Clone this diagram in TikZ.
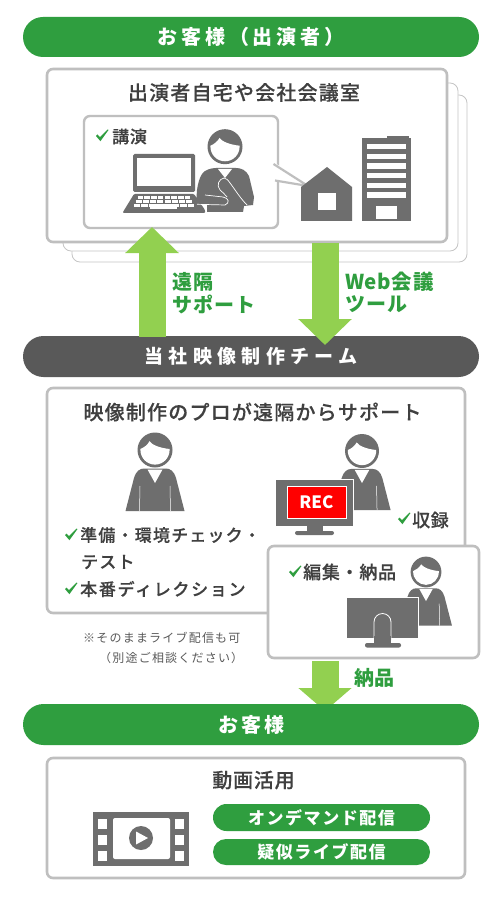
\documentclass[tikz,border=0pt]{standalone}
\usepackage{fontspec}
\usetikzlibrary{arrows.meta,shapes.misc}
\setmainfont{Noto Sans CJK JP}
\newfontfamily\medf{Noto Sans CJK JP Medium}[FakeBold=0.25]
\definecolor{pillgreen}{HTML}{2F9E3F}
\definecolor{arrowgreen}{HTML}{92D050}
\definecolor{icon}{HTML}{6E6E6E}
\definecolor{frame}{HTML}{BFBFBF}
\definecolor{ink}{HTML}{404040}
\definecolor{darkpill}{HTML}{595959}
\newcommand{\T}[2]{\fontsize{#1}{#1}\selectfont\addfontfeature{LetterSpace=#2}}
\newcommand{\checkat}[2]{\fill[pillgreen,shift={(#1,#2)}] (-7,0) -- (-5.5,-1.5) -- (-3,1.2) -- (4.5,-6.5) -- (5.5,-6) -- (-2.6,5.2) -- cycle;}
\newcommand{\headat}[3]{%
 \begin{scope}[shift={(#1,#2)},scale=#3]
  \fill[icon] (0,0) circle (17.5);
  \fill[white] (-14.6,-1) .. controls (-11,-2.5) and (-7.5,-5) .. (-5.5,-8.8) .. controls (-3,-5) and (5,-2) .. (14.6,-1) .. controls (15,8) and (8,14.6) .. (0,14.6) .. controls (-8,14.6) and (-15,8) .. (-14.6,-1) -- cycle;
 \end{scope}}
\newcommand{\personat}[3]{%
 \begin{scope}[shift={(#1,#2)},scale=#3]
  \fill[icon] (-29.5,61) -- (-21,28) .. controls (-19,21) and (-15,18.5) .. (-11,18.5) -- (11,18.5) .. controls (15,18.5) and (19,21) .. (21,28) -- (29.5,61) -- cycle;
  \fill[white] (-7.5,19.5) -- (7.5,19.5) -- (0,33) -- cycle;
  \draw[white,line width=.5] (-15.5,61) -- (-15,36) (15.5,61) -- (15,36);
 \end{scope}
 \headat{#1}{#2}{#3}}
\tikzset{
 boxw/.style={draw=frame,line width=2.6,fill=white,rounded corners=6},
 backw/.style={draw=frame!90,line width=.8,fill=white,rounded corners=8},
 pill/.style={rounded rectangle,minimum height=#1,inner sep=0pt,text=white,font=\bfseries},
 lab/.style={inner sep=0pt,text=ink,font=\medf},
 labl/.style={lab,anchor=west},
 grn/.style={inner sep=0pt,anchor=west,text=pillgreen,font=\bfseries},
 bigarrow/.style={arrowgreen,line width=27pt,-{Triangle[width=52pt,length=26pt]}},
}
\begin{document}
\begin{tikzpicture}[x=1pt,y=-1pt]
\useasboundingbox (0,0) rectangle (500,901);
\fill[white] (0,0) rectangle (500,901);
% top pill
\node[pill=40pt,fill=pillgreen,minimum width=456pt] (pa) at (251,37) {\T{20}{19}お客様（出演者）};
% stacked frames
\draw[backw] (72,95) rectangle (467,262);
\draw[backw] (63,83) rectangle (458,251);
\draw[boxw] (47,69) rectangle (447,242);
\node[lab] (t1) at (244,92.5) {\T{20}{6}出演者自宅や会社会議室};
% inner speech box
\draw[boxw,line width=2.4] (84,116) rectangle (278,228);
\fill[white] (275,163) -- (310,186) -- (275,181) -- cycle;
\draw[frame,line width=2.2,line join=round] (273.5,164) -- (308,186) -- (275,180.5);
\checkat{103}{136}
\node[labl] (t2) at (112,136.5) {\T{17}{4}講演};
% laptop
\fill[icon,rounded corners=1.5] (133,154) rectangle (195,192);
\fill[white] (137,158) rectangle (191,186);
\fill[icon,rounded corners=1] (134,194) -- (194,194) -- (205,210) -- (205,213) -- (123,213) -- (123,212) -- cycle;
\foreach \r/\yy/\l/\h in {0/196/137/191,1/200/135/193,2/204/133/195}{
 \foreach \k in {0,...,7}{\fill[white] ({\l+\k*(\h-\l)/8+.6},\yy) rectangle ({\l+(\k+1)*(\h-\l)/8-.6},\yy+2.6);}}
\fill[white] (150,204) rectangle (177,209);
% presenter
\fill[icon] (196,204) -- (197,190) .. controls (199,176) and (203,171) .. (208,169.5) .. controls (211,168.5) and (213,168) .. (216,168) -- (236,168) .. controls (241,168) and (246,170) .. (249,176) -- (254,197) -- (253,205) -- (244,206) -- (243,212) -- (207,212) -- (207,205) -- cycle;
\fill[white] (218,169) -- (232,169) -- (225,178) -- cycle;
\draw[white,line width=.7] (205,195) -- (223,197) .. controls (229,198) and (230,203) .. (225,205) -- (197,204.3);
\draw[white,line width=.7] (230,183) .. controls (228,180) and (226,178) .. (224,178) .. controls (219,179) and (216,185) .. (220,190) .. controls (222,192) and (225,194) .. (227,197);
\draw[white,line width=.7] (230,183) .. controls (234,188) and (240,198) .. (247,205);
\headat{225}{146.7}{1}
% house
\fill[icon] (327,167) -- (352,187) -- (352,221) -- (301,221) -- (301,187) -- cycle;
\fill[white] (318,193) rectangle (336,210);
% building
\fill[icon] (362,138) rectangle (411,221);
\fill[icon] (387,136) rectangle (409,139);
\foreach \yy in {144,153.7,163.4,173,182.7,192.4}{\fill[white] (367,\yy) rectangle (406,\yy+5.4);}
\fill[white] (376,206) rectangle (397,219);
% dark pill
\node[pill=41pt,fill=darkpill,minimum width=456pt] (pb) at (251,356.5) {\T{19}{28}当社映像制作チーム};
% arrows 1
\coordinate (upa) at (152,337);
\coordinate (upb) at (152,227);
\coordinate (dna) at (325,243);
\coordinate (dnb) at (325,345);
\draw[bigarrow] (upa) -- (upb);
\draw[bigarrow] (dna) -- (dnb);
\node[grn] (t3) at (172,281.5) {\T{20}{5}遠隔};
\node[grn] (t4) at (172,304.5) {\T{20}{5}サポート};
\node[grn] (t5) at (345,282) {\T{20.5}{3}Web会議};
\node[grn] (t6) at (345,304.5) {\T{20}{5}ツール};
% box 2
\draw[boxw] (47,388) rectangle (465,613);
\node[lab] (t7) at (252.5,412) {\T{20}{6}映像制作のプロが遠隔からサポート};
\personat{155}{450}{1}
\checkat{72}{535}
\node[labl] (t8) at (80,535) {\T{17}{7}準備・環境チェック・};
\node[labl] (t9) at (81,562) {\T{17}{7}テスト};
\checkat{72}{589}
\node[labl] (t10) at (80,589) {\T{17}{10}本番ディレクション};
\personat{362}{451}{.97}
% REC monitor
\fill[white] (275,479) rectangle (354,527);
\fill[icon] (276,480) rectangle (353,526);
\fill[icon] (307,520) rectangle (323,533);
\fill[icon,rounded corners=2] (295,531) rectangle (334,535);
\node[draw=white,line width=.8,fill=red,minimum width=59pt,minimum height=32pt,inner sep=0pt,text=white,font=\bfseries] (rec) at (316.5,502) {\T{17}{0}REC};
\checkat{405}{519}
\node[labl] (t11) at (412,520) {\T{18}{3}収録};
% small box
\draw[boxw] (268,546) rectangle (479,658);
\checkat{296}{572}
\node[labl] (t12) at (303,572) {\T{18}{4}編集・納品};
\personat{426}{572}{.88}
\fill[white] (346,597) rectangle (419,639);
\fill[icon] (347,598) rectangle (418,638);
\draw[white,line width=.8,fill=icon] (374,640) -- (374,622) arc (180:360:8.5) -- (391,640);
\fill[icon] (374.4,636) rectangle (390.6,644);
\fill[icon,rounded corners=2] (365,643) rectangle (401,647.5);
% note
\node[lab,font=\normalfont,anchor=west,text=darkpill] (n1) at (83,638) {\T{12}{10}※そのままライブ配信も可};
\node[lab,font=\normalfont,anchor=west,text=darkpill] (n2) at (99,658) {\T{12}{10}（別途ご相談ください）};
% arrow 3
\coordinate (dnc) at (325,661);
\coordinate (dnd) at (325,711);
\draw[arrowgreen,line width=27pt,-{Triangle[width=52pt,length=23pt]}] (dnc) -- (dnd);
\node[grn] (t13) at (354,678) {\T{20}{3}納品};
% third pill
\node[pill=41pt,fill=pillgreen,minimum width=456pt] (pc) at (251,724.5) {\T{20}{15}お客様};
% box 3
\draw[boxw] (47,758) rectangle (465,878);
\node[lab] (t14) at (253.5,780) {\T{20}{4}動画活用};
\node[pill=27pt,fill=pillgreen,minimum width=217pt] (p1) at (321.5,817.5) {\T{17}{9}オンデマンド配信};
\node[pill=26pt,fill=pillgreen,minimum width=217pt] (p2) at (321.5,852) {\T{17}{9}疑似ライブ配信};
% film
\fill[icon] (93,812) rectangle (189,866);
\foreach \yy in {819,835,851}{\fill[white] (98,\yy) rectangle (107,\yy+9.5); \fill[white] (175,\yy) rectangle (184,\yy+9.5);}
\fill[white,rounded corners=2] (113,818) rectangle (170,859);
\fill[icon] (141,838) circle (12);
\fill[white] (136,831.5) -- (148,838) -- (136,844.5) -- cycle;
\end{tikzpicture}
\end{document}
